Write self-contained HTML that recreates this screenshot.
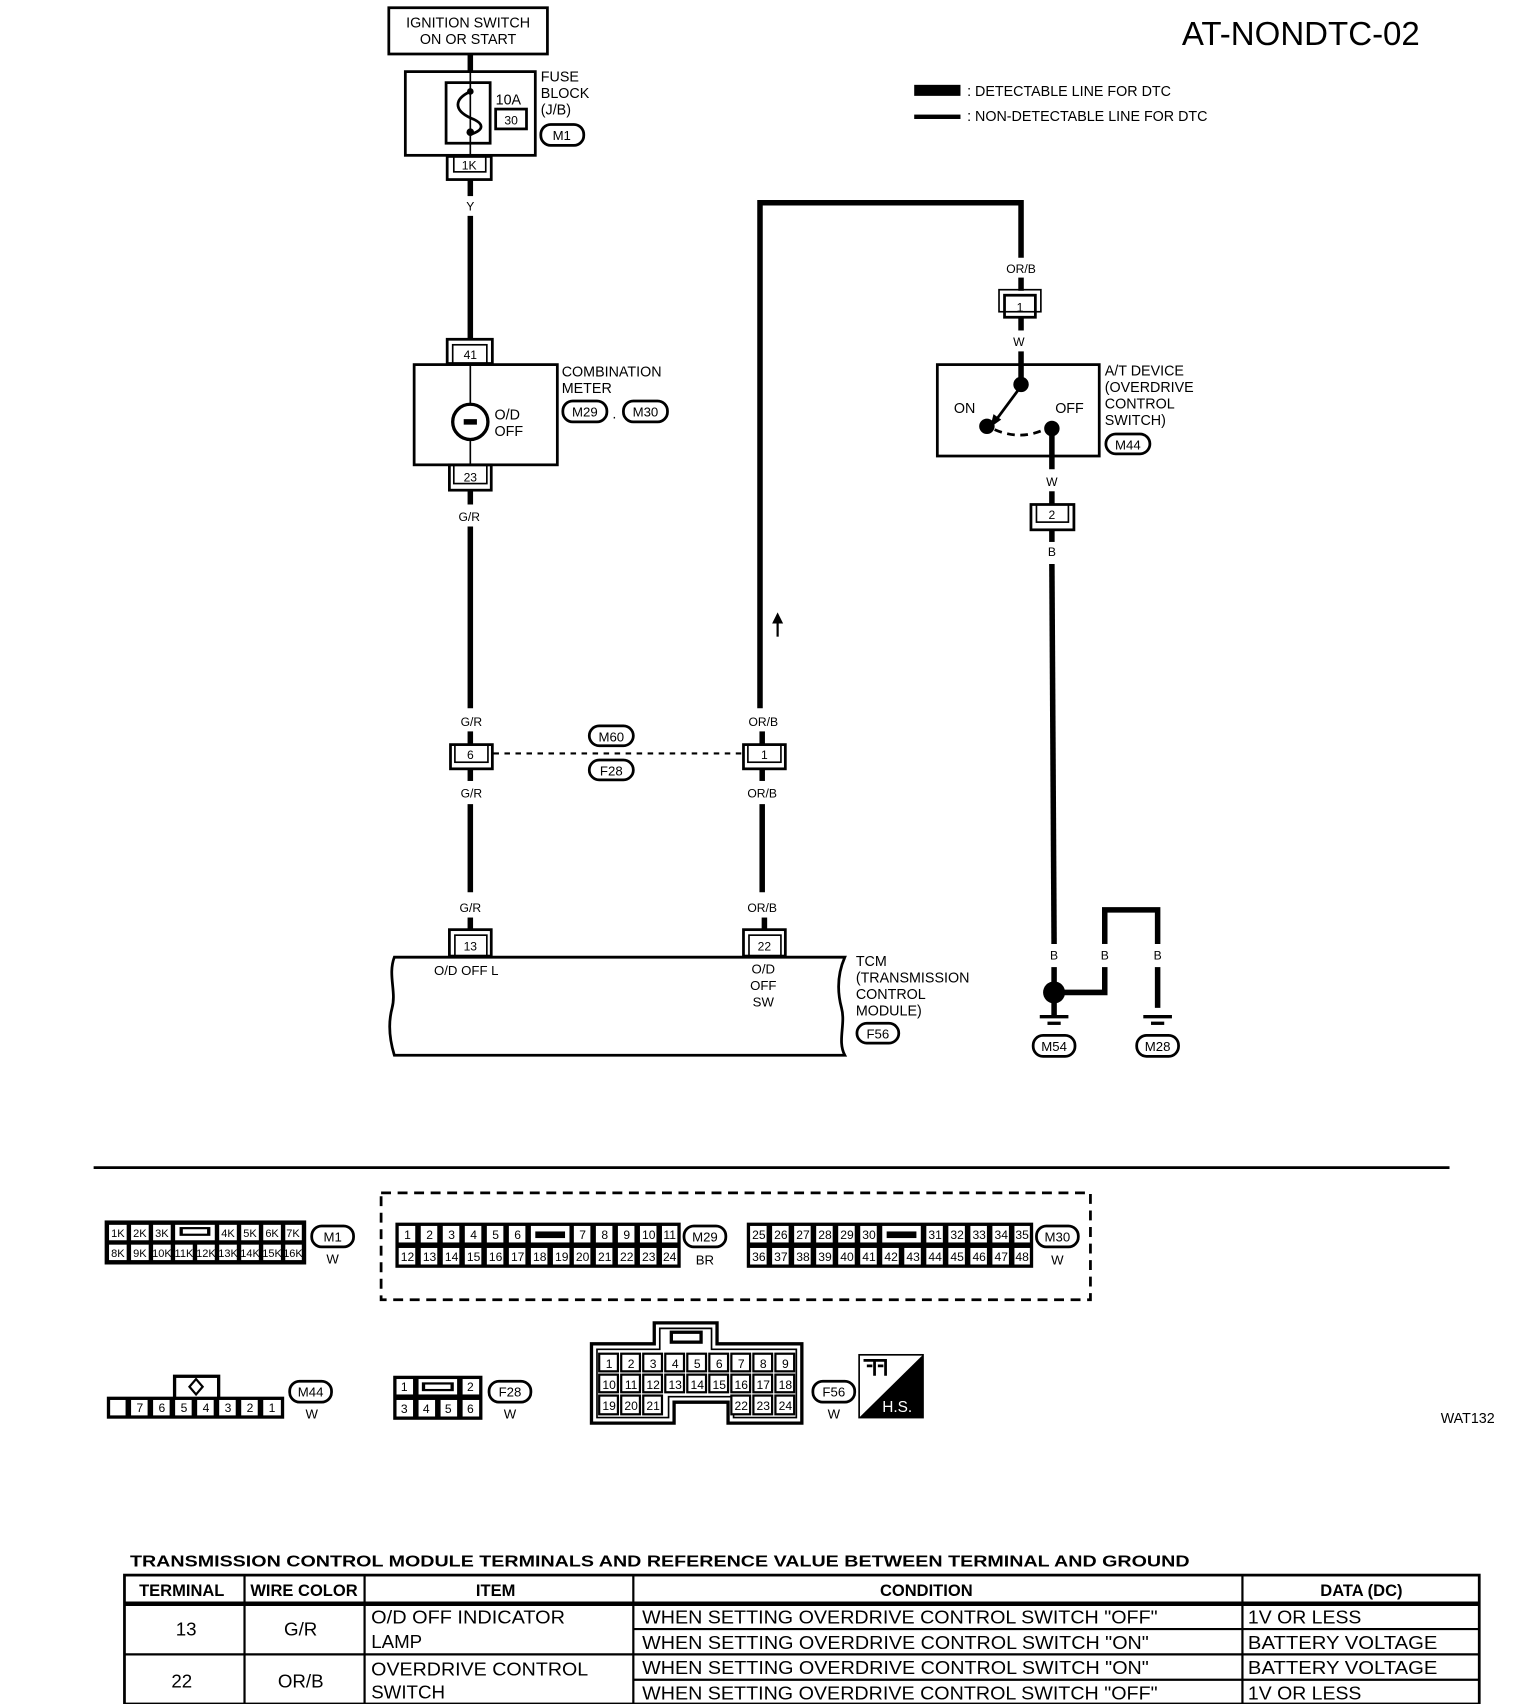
<!DOCTYPE html>
<html><head><meta charset="utf-8"><style>
html,body{margin:0;padding:0;background:#fff;}
svg{display:block;}
text{font-family:"Liberation Sans Narrow","Liberation Sans",sans-serif;fill:#000;}
.s{font-size:13px;}
.t{font-size:12px;}
.c{font-size:11px;text-anchor:middle;}
.m{font-size:12px;text-anchor:middle;}
.w{stroke:#000;stroke-width:5;fill:none;}
.b{stroke:#000;stroke-width:2.5;fill:none;}
.n{stroke:#000;stroke-width:1.5;fill:none;}
.g rect{fill:#fff;stroke:#000;stroke-width:2;}
</style></head><body>
<svg width="1520" height="1704" viewBox="0 0 1380 1547" xmlns="http://www.w3.org/2000/svg">
<text x="1073" y="41" style="font-size:30px">AT-NONDTC-02</text>
<rect x="830" y="77" width="42" height="10" fill="#000"/>
<text x="878" y="87" class="s">: DETECTABLE LINE FOR DTC</text>
<rect x="830" y="104" width="42" height="4" fill="#000"/>
<text x="878" y="110" class="s">: NON-DETECTABLE LINE FOR DTC</text>

<rect x="353" y="7" width="144" height="42" class="b"/>
<text x="425" y="25" class="s" text-anchor="middle">IGNITION SWITCH</text>
<text x="425" y="40" class="s" text-anchor="middle">ON OR START</text>
<line x1="427" y1="49" x2="427" y2="65" class="w"/>
<rect x="368" y="65" width="118" height="76" class="b"/>
<rect x="405" y="75" width="40" height="55" class="b"/>
<line x1="427" y1="65" x2="427" y2="142" class="n"/>
<path d="M427 83 C412 90,412 100,427 107 C440 112,440 118,427 122" class="b"/>
<circle cx="427" cy="83" r="3" fill="#000"/><circle cx="427" cy="120" r="3.5" fill="#000"/>
<text x="450" y="95" class="s">10A</text>
<rect x="450" y="99" width="28" height="18" class="b"/>
<text x="464" y="113" class="c">30</text>
<text x="491" y="74" class="s">FUSE</text><text x="491" y="89" class="s">BLOCK</text><text x="491" y="104" class="s">(J/B)</text>
<rect x="491" y="113" width="39" height="19" rx="9" class="b"/><text x="510" y="127" class="m">M1</text>
<rect x="406" y="142" width="40" height="21" class="b"/><rect x="412" y="142" width="29" height="14" class="n"/>
<text x="426" y="154" class="c">1K</text>
<line x1="427" y1="163" x2="427" y2="178" class="w"/>
<text x="427" y="191" class="c">Y</text>
<line x1="427" y1="196" x2="427" y2="308" class="w"/>
<rect x="406" y="308" width="41" height="22" class="b"/><rect x="411" y="313" width="31" height="17" class="n"/>
<text x="427" y="326" class="c">41</text>
<rect x="376" y="331" width="130" height="91" class="b"/>
<line x1="427" y1="331" x2="427" y2="422" class="n"/>
<circle cx="427" cy="383" r="16" fill="#fff" stroke="#000" stroke-width="3"/>
<line x1="421" y1="383" x2="433" y2="383" stroke="#000" stroke-width="5"/>
<text x="449" y="381" class="s">O/D</text><text x="449" y="396" class="s">OFF</text>
<text x="510" y="342" class="s">COMBINATION</text><text x="510" y="357" class="s">METER</text>
<rect x="511" y="364" width="40" height="19" rx="9" class="b"/><text x="531" y="378" class="m">M29</text>
<text x="556" y="380" class="s">.</text>
<rect x="566" y="364" width="40" height="19" rx="9" class="b"/><text x="586" y="378" class="m">M30</text>
<rect x="408" y="422" width="38" height="23" class="b"/><rect x="412" y="422" width="30" height="17" class="n"/>
<text x="427" y="437" class="c">23</text>
<line x1="427" y1="445" x2="427" y2="458" class="w"/>
<text x="426" y="473" class="c">G/R</text>
<line x1="427" y1="478" x2="427" y2="643" class="w"/>
<text x="428" y="659" class="c">G/R</text>
<line x1="427" y1="664" x2="427" y2="676" class="w"/>
<rect x="409" y="676" width="38" height="22" class="b"/><rect x="413" y="676" width="30" height="16" class="n"/>
<text x="427" y="689" class="c">6</text>
<line x1="427" y1="698" x2="427" y2="709" class="w"/>
<text x="428" y="724" class="c">G/R</text>
<line x1="427" y1="730" x2="427" y2="810" class="w"/>
<text x="427" y="828" class="c">G/R</text>
<line x1="427" y1="833" x2="427" y2="844" class="w"/>
<rect x="408" y="844" width="38" height="24" class="b"/><rect x="413" y="849" width="29" height="19" class="n"/>
<text x="427" y="863" class="c">13</text>
<line x1="448" y1="684" x2="676" y2="684" stroke="#000" stroke-width="2" stroke-dasharray="5,5"/>
<rect x="535" y="659" width="40" height="18" rx="9" class="b"/><text x="555" y="673" class="m">M60</text>
<rect x="535" y="690" width="40" height="18" rx="9" class="b"/><text x="555" y="704" class="m">F28</text>
<path d="M690 643 V184 H927 V234" class="w"/>
<path d="M706 578 V560" stroke="#000" stroke-width="2"/><path d="M701 566 L706 556 L711 566 Z" fill="#000"/>
<text x="693" y="659" class="c">OR/B</text>
<line x1="692" y1="664" x2="692" y2="676" class="w"/>
<rect x="675" y="676" width="38" height="22" class="b"/><rect x="679" y="676" width="30" height="16" class="n"/>
<text x="694" y="689" class="c">1</text>
<line x1="692" y1="698" x2="692" y2="709" class="w"/>
<text x="692" y="724" class="c">OR/B</text>
<line x1="692" y1="730" x2="692" y2="810" class="w"/>
<text x="692" y="828" class="c">OR/B</text>
<line x1="694" y1="833" x2="694" y2="844" class="w"/>
<rect x="675" y="844" width="38" height="24" class="b"/><rect x="680" y="849" width="29" height="19" class="n"/>
<text x="694" y="863" class="c">22</text>
<path d="M358 869 H767 C760 885,760 900,764 915 C768 930,760 945,767 958 H358 C354 945,352 930,356 915 C360 900,352 885,358 869 Z" class="b"/>
<text x="394" y="885" class="t">O/D OFF L</text>
<text x="693" y="884" class="c" style="font-size:12px">O/D</text>
<text x="693" y="899" class="c" style="font-size:12px">OFF</text>
<text x="693" y="914" class="c" style="font-size:12px">SW</text>
<text x="777" y="877" class="s">TCM</text><text x="777" y="892" class="s">(TRANSMISSION</text>
<text x="777" y="907" class="s">CONTROL</text><text x="777" y="922" class="s">MODULE)</text>
<rect x="778" y="929" width="38" height="18" rx="9" class="b"/><text x="797" y="943" class="m">F56</text>
<text x="927" y="248" class="c">OR/B</text>
<line x1="927" y1="252" x2="927" y2="264" class="w"/>
<rect x="907" y="263" width="38" height="20" class="n"/><rect x="912" y="268" width="28" height="20" class="b"/>
<text x="926" y="283" class="c">1</text>
<line x1="927" y1="288" x2="927" y2="300" class="w"/>
<text x="925" y="314" class="c">W</text>
<line x1="927" y1="319" x2="927" y2="348" class="w"/>
<rect x="851" y="331" width="147" height="83" class="b"/>
<circle cx="927" cy="349" r="7" fill="#000"/>
<line x1="926" y1="352" x2="903" y2="383" stroke="#000" stroke-width="2.5"/>
<path d="M899 388 L902 376 L909 381 Z" fill="#000"/>
<circle cx="896" cy="387" r="7" fill="#000"/>
<path d="M903 390 Q926 400 948 390" stroke="#000" stroke-width="2.5" fill="none" stroke-dasharray="7,5"/>
<circle cx="955" cy="389" r="7" fill="#000"/>
<line x1="955" y1="389" x2="955" y2="426" class="w"/>
<text x="866" y="375" class="s">ON</text><text x="958" y="375" class="s">OFF</text>
<text x="1003" y="341" class="s">A/T DEVICE</text><text x="1003" y="356" class="s">(OVERDRIVE</text>
<text x="1003" y="371" class="s">CONTROL</text><text x="1003" y="386" class="s">SWITCH)</text>
<rect x="1004" y="394" width="40" height="18" rx="9" class="b"/><text x="1024" y="408" class="m">M44</text>
<text x="955" y="441" class="c">W</text>
<line x1="955" y1="446" x2="955" y2="458" class="w"/>
<rect x="936" y="458" width="39" height="23" class="b"/><rect x="941" y="458" width="29" height="16" class="n"/>
<text x="955" y="471" class="c">2</text>
<line x1="955" y1="481" x2="955" y2="492" class="w"/>
<text x="955" y="505" class="c">B</text>
<line x1="955" y1="512" x2="957" y2="857" class="w"/>
<path d="M965 901 H1003 V826 H1051 V857" class="w"/>
<line x1="1003" y1="857" x2="1003" y2="878" stroke="#fff" stroke-width="8"/>
<line x1="1051" y1="878" x2="1051" y2="915" class="w"/>
<text x="957" y="871" class="c">B</text><text x="1003" y="871" class="c">B</text><text x="1051" y="871" class="c">B</text>
<line x1="957" y1="878" x2="957" y2="900" class="w"/>
<circle cx="957" cy="901" r="10" fill="#000"/>
<line x1="957" y1="910" x2="957" y2="922" class="w"/>
<line x1="944" y1="923" x2="970" y2="923" stroke="#000" stroke-width="3"/><line x1="951" y1="929" x2="963" y2="929" stroke="#000" stroke-width="3"/>
<line x1="1038" y1="923" x2="1064" y2="923" stroke="#000" stroke-width="3"/><line x1="1045" y1="929" x2="1057" y2="929" stroke="#000" stroke-width="3"/>
<rect x="938" y="940" width="38" height="19" rx="9" class="b"/><text x="957" y="954" class="m">M54</text>
<rect x="1032" y="940" width="38" height="19" rx="9" class="b"/><text x="1051" y="954" class="m">M28</text>

<line x1="85" y1="1060" x2="1316" y2="1060" stroke="#000" stroke-width="2.5"/>
<rect x="346" y="1083" width="644" height="97" fill="none" stroke="#000" stroke-width="2.5" stroke-dasharray="9,6"/>

<g class="g">
<rect x="96" y="1109" width="181" height="38" style="fill:#000"/>
<rect x="98" y="1111" width="18" height="16"/><rect x="118" y="1111" width="18" height="16"/><rect x="138" y="1111" width="18" height="16"/>
<rect x="158" y="1111" width="38" height="16"/>
<rect x="198" y="1111" width="18" height="16"/><rect x="218" y="1111" width="18" height="16"/><rect x="238" y="1111" width="18" height="16"/><rect x="258" y="1111" width="17" height="16"/>
<rect x="98" y="1129" width="18" height="16"/><rect x="118" y="1129" width="18" height="16"/><rect x="138" y="1129" width="18" height="16"/><rect x="158" y="1129" width="18" height="16"/><rect x="178" y="1129" width="18" height="16"/><rect x="198" y="1129" width="18" height="16"/><rect x="218" y="1129" width="18" height="16"/><rect x="238" y="1129" width="18" height="16"/><rect x="258" y="1129" width="17" height="16"/>
</g>
<rect x="163" y="1114" width="28" height="8" fill="#000"/><rect x="166" y="1116" width="22" height="4" fill="#fff"/>
<g class="c" style="font-size:10px">
<text x="107" y="1123">1K</text><text x="127" y="1123">2K</text><text x="147" y="1123">3K</text><text x="207" y="1123">4K</text><text x="227" y="1123">5K</text><text x="247" y="1123">6K</text><text x="266" y="1123">7K</text>
<text x="107" y="1141">8K</text><text x="127" y="1141">9K</text><text x="147" y="1141">10K</text><text x="167" y="1141">11K</text><text x="187" y="1141">12K</text><text x="207" y="1141">13K</text><text x="227" y="1141">14K</text><text x="247" y="1141">15K</text><text x="266" y="1141">16K</text>
</g>
<rect x="283" y="1113" width="38" height="19" rx="9" class="b"/><text x="302" y="1127" class="m">M1</text>
<text x="302" y="1147" class="m">W</text>

<rect x="359" y="1110" width="259" height="41" fill="#000"/>
<g class="g">
<rect x="361" y="1112" width="17" height="17"/><rect x="381" y="1112" width="17" height="17"/><rect x="401" y="1112" width="17" height="17"/><rect x="421" y="1112" width="17" height="17"/><rect x="441" y="1112" width="17" height="17"/><rect x="461" y="1112" width="17" height="17"/>
<rect x="481" y="1112" width="37" height="17"/>
<rect x="520" y="1112" width="17" height="17"/><rect x="540" y="1112" width="17" height="17"/><rect x="560" y="1112" width="17" height="17"/><rect x="580" y="1112" width="17" height="17"/><rect x="600" y="1112" width="16" height="17"/>
<rect x="361" y="1132" width="17" height="17"/><rect x="381" y="1132" width="17" height="17"/><rect x="401" y="1132" width="17" height="17"/><rect x="421" y="1132" width="17" height="17"/><rect x="441" y="1132" width="17" height="17"/><rect x="461" y="1132" width="17" height="17"/><rect x="481" y="1132" width="17" height="17"/><rect x="501" y="1132" width="17" height="17"/><rect x="520" y="1132" width="17" height="17"/><rect x="540" y="1132" width="17" height="17"/><rect x="560" y="1132" width="17" height="17"/><rect x="580" y="1132" width="17" height="17"/><rect x="600" y="1132" width="16" height="17"/>
</g>
<rect x="486" y="1118" width="27" height="6" fill="#000"/>
<g class="c" style="font-size:11px">
<text x="370" y="1125">1</text><text x="390" y="1125">2</text><text x="410" y="1125">3</text><text x="430" y="1125">4</text><text x="450" y="1125">5</text><text x="470" y="1125">6</text><text x="529" y="1125">7</text><text x="549" y="1125">8</text><text x="569" y="1125">9</text><text x="589" y="1125">10</text><text x="608" y="1125">11</text>
<text x="370" y="1145">12</text><text x="390" y="1145">13</text><text x="410" y="1145">14</text><text x="430" y="1145">15</text><text x="450" y="1145">16</text><text x="470" y="1145">17</text><text x="490" y="1145">18</text><text x="510" y="1145">19</text><text x="529" y="1145">20</text><text x="549" y="1145">21</text><text x="569" y="1145">22</text><text x="589" y="1145">23</text><text x="608" y="1145">24</text>
</g>
<rect x="621" y="1113" width="38" height="19" rx="9" class="b"/><text x="640" y="1127" class="m">M29</text>
<text x="640" y="1148" class="m">BR</text>

<rect x="678" y="1110" width="260" height="41" fill="#000"/>
<g class="g">
<rect x="680" y="1112" width="17" height="17"/><rect x="700" y="1112" width="17" height="17"/><rect x="720" y="1112" width="17" height="17"/><rect x="740" y="1112" width="17" height="17"/><rect x="760" y="1112" width="17" height="17"/><rect x="780" y="1112" width="17" height="17"/>
<rect x="800" y="1112" width="37" height="17"/>
<rect x="840" y="1112" width="17" height="17"/><rect x="860" y="1112" width="17" height="17"/><rect x="880" y="1112" width="17" height="17"/><rect x="900" y="1112" width="17" height="17"/><rect x="920" y="1112" width="16" height="17"/>
<rect x="680" y="1132" width="17" height="17"/><rect x="700" y="1132" width="17" height="17"/><rect x="720" y="1132" width="17" height="17"/><rect x="740" y="1132" width="17" height="17"/><rect x="760" y="1132" width="17" height="17"/><rect x="780" y="1132" width="17" height="17"/><rect x="800" y="1132" width="17" height="17"/><rect x="820" y="1132" width="17" height="17"/><rect x="840" y="1132" width="17" height="17"/><rect x="860" y="1132" width="17" height="17"/><rect x="880" y="1132" width="17" height="17"/><rect x="900" y="1132" width="17" height="17"/><rect x="920" y="1132" width="16" height="17"/>
</g>
<rect x="805" y="1118" width="27" height="6" fill="#000"/>
<g class="c" style="font-size:11px">
<text x="689" y="1125">25</text><text x="709" y="1125">26</text><text x="729" y="1125">27</text><text x="749" y="1125">28</text><text x="769" y="1125">29</text><text x="789" y="1125">30</text><text x="849" y="1125">31</text><text x="869" y="1125">32</text><text x="889" y="1125">33</text><text x="909" y="1125">34</text><text x="928" y="1125">35</text>
<text x="689" y="1145">36</text><text x="709" y="1145">37</text><text x="729" y="1145">38</text><text x="749" y="1145">39</text><text x="769" y="1145">40</text><text x="789" y="1145">41</text><text x="809" y="1145">42</text><text x="829" y="1145">43</text><text x="849" y="1145">44</text><text x="869" y="1145">45</text><text x="889" y="1145">46</text><text x="909" y="1145">47</text><text x="928" y="1145">48</text>
</g>
<rect x="941" y="1113" width="38" height="19" rx="9" class="b"/><text x="960" y="1127" class="m">M30</text>
<text x="960" y="1148" class="m">W</text>

<rect x="97" y="1268" width="161" height="20" fill="#000"/>
<rect x="157" y="1248" width="43" height="22" fill="#000"/><rect x="160" y="1251" width="37" height="17" fill="#fff"/>
<path d="M178 1252 L184 1259 L178 1266 L172 1259 Z" fill="none" stroke="#000" stroke-width="2"/>
<g class="g">
<rect x="99" y="1270" width="16" height="16"/><rect x="118" y="1270" width="17" height="16"/><rect x="138" y="1270" width="17" height="16"/><rect x="158" y="1270" width="17" height="16"/><rect x="178" y="1270" width="17" height="16"/><rect x="198" y="1270" width="17" height="16"/><rect x="218" y="1270" width="17" height="16"/><rect x="238" y="1270" width="18" height="16"/>
</g>
<g class="c" style="font-size:11px"><text x="127" y="1282">7</text><text x="147" y="1282">6</text><text x="167" y="1282">5</text><text x="187" y="1282">4</text><text x="207" y="1282">3</text><text x="227" y="1282">2</text><text x="247" y="1282">1</text></g>
<rect x="263" y="1254" width="38" height="19" rx="9" class="b"/><text x="282" y="1268" class="m">M44</text>
<text x="283" y="1288" class="m">W</text>

<rect x="357" y="1249" width="81" height="40" fill="#000"/>
<g class="g">
<rect x="359" y="1251" width="17" height="16"/><rect x="379" y="1251" width="37" height="16"/><rect x="419" y="1251" width="17" height="16"/>
<rect x="359" y="1270" width="17" height="17"/><rect x="379" y="1270" width="17" height="17"/><rect x="399" y="1270" width="17" height="17"/><rect x="419" y="1270" width="17" height="17"/>
</g>
<rect x="383" y="1255" width="29" height="8" fill="#000"/><rect x="386" y="1257" width="23" height="4" fill="#fff"/>
<g class="c" style="font-size:11px"><text x="367" y="1263">1</text><text x="427" y="1263">2</text><text x="367" y="1283">3</text><text x="387" y="1283">4</text><text x="407" y="1283">5</text><text x="427" y="1283">6</text></g>
<rect x="444" y="1254" width="38" height="19" rx="9" class="b"/><text x="463" y="1268" class="m">F28</text>
<text x="463" y="1288" class="m">W</text>

<path d="M537 1220 H594 V1201 H651 V1220 H728 V1292 H661 V1273 H612 V1292 H537 Z" fill="#fff" stroke="#000" stroke-width="3"/>
<path d="M542 1225 H599 V1206 H646 V1225 H723 V1287 H666 V1268 H607 V1287 H542 Z" fill="none" stroke="#000" stroke-width="1.5"/>
<rect x="608" y="1208" width="30" height="12" fill="#000"/><rect x="611" y="1211" width="24" height="6" fill="#fff"/>
<g class="g">
<rect x="544" y="1229" width="17" height="16"/><rect x="564" y="1229" width="17" height="16"/><rect x="584" y="1229" width="17" height="16"/><rect x="604" y="1229" width="17" height="16"/><rect x="624" y="1229" width="17" height="16"/><rect x="644" y="1229" width="17" height="16"/><rect x="664" y="1229" width="17" height="16"/><rect x="684" y="1229" width="17" height="16"/><rect x="704" y="1229" width="17" height="16"/>
<rect x="544" y="1248" width="17" height="16"/><rect x="564" y="1248" width="17" height="16"/><rect x="584" y="1248" width="17" height="16"/><rect x="604" y="1248" width="17" height="16"/><rect x="624" y="1248" width="17" height="16"/><rect x="644" y="1248" width="17" height="16"/><rect x="664" y="1248" width="17" height="16"/><rect x="684" y="1248" width="17" height="16"/><rect x="704" y="1248" width="17" height="16"/>
<rect x="544" y="1267" width="17" height="17"/><rect x="564" y="1267" width="17" height="17"/><rect x="584" y="1267" width="17" height="17"/><rect x="664" y="1267" width="17" height="17"/><rect x="684" y="1267" width="17" height="17"/><rect x="704" y="1267" width="17" height="17"/>
</g>
<g class="c" style="font-size:11px">
<text x="553" y="1242">1</text><text x="573" y="1242">2</text><text x="593" y="1242">3</text><text x="613" y="1242">4</text><text x="633" y="1242">5</text><text x="653" y="1242">6</text><text x="673" y="1242">7</text><text x="693" y="1242">8</text><text x="713" y="1242">9</text>
<text x="553" y="1261">10</text><text x="573" y="1261">11</text><text x="593" y="1261">12</text><text x="613" y="1261">13</text><text x="633" y="1261">14</text><text x="653" y="1261">15</text><text x="673" y="1261">16</text><text x="693" y="1261">17</text><text x="713" y="1261">18</text>
<text x="553" y="1280">19</text><text x="573" y="1280">20</text><text x="593" y="1280">21</text><text x="673" y="1280">22</text><text x="693" y="1280">23</text><text x="713" y="1280">24</text>
</g>
<rect x="738" y="1254" width="38" height="19" rx="9" class="b"/><text x="757" y="1268" class="m">F56</text>
<text x="757" y="1288" class="m">W</text>
<rect x="780" y="1230" width="58" height="57" fill="#fff" stroke="#000" stroke-width="1.5"/>
<path d="M780 1287 L838 1230 V1287 Z" fill="#000"/>
<path d="M784 1235 h10 v14 M794 1235 h10 v14 M787 1240 h5 M797 1240 h5" stroke="#000" stroke-width="2.5" fill="none"/>
<text x="801" y="1282" style="font-size:14px;fill:#fff">H.S.</text>
<text x="1308" y="1292" class="s">WAT132</text>

<text x="118" y="1422" style="font-size:14px;font-weight:bold" textLength="962" lengthAdjust="spacingAndGlyphs">TRANSMISSION CONTROL MODULE TERMINALS AND REFERENCE VALUE BETWEEN TERMINAL AND GROUND</text>
<rect x="113" y="1430" width="1230" height="117" fill="none" stroke="#000" stroke-width="2.5"/>
<line x1="113" y1="1456" x2="1343" y2="1456" stroke="#000" stroke-width="4"/>
<line x1="113" y1="1502" x2="1343" y2="1502" stroke="#000" stroke-width="2"/>
<line x1="575" y1="1479" x2="1343" y2="1479" stroke="#000" stroke-width="2"/>
<line x1="575" y1="1525" x2="1343" y2="1525" stroke="#000" stroke-width="2"/>
<line x1="222" y1="1430" x2="222" y2="1547" stroke="#000" stroke-width="2"/>
<line x1="331" y1="1430" x2="331" y2="1547" stroke="#000" stroke-width="2"/>
<line x1="575" y1="1430" x2="575" y2="1547" stroke="#000" stroke-width="2"/>
<line x1="1128" y1="1430" x2="1128" y2="1547" stroke="#000" stroke-width="2"/>
<g style="font-size:15px;font-weight:bold" text-anchor="middle">
<text x="165" y="1449">TERMINAL</text><text x="276" y="1449">WIRE COLOR</text><text x="450" y="1449">ITEM</text><text x="841" y="1449">CONDITION</text><text x="1236" y="1449">DATA (DC)</text>
</g>
<g style="font-size:17px">
<text x="169" y="1485" text-anchor="middle">13</text><text x="273" y="1485" text-anchor="middle">G/R</text>
<text x="165" y="1532" text-anchor="middle">22</text><text x="273" y="1532" text-anchor="middle">OR/B</text>
<text x="337" y="1474" textLength="176" lengthAdjust="spacingAndGlyphs">O/D OFF INDICATOR</text><text x="337" y="1496">LAMP</text>
<text x="337" y="1521" textLength="197" lengthAdjust="spacingAndGlyphs">OVERDRIVE CONTROL</text><text x="337" y="1542">SWITCH</text>
<text x="583" y="1474" textLength="468" lengthAdjust="spacingAndGlyphs">WHEN SETTING OVERDRIVE CONTROL SWITCH "OFF"</text>
<text x="583" y="1497" textLength="460" lengthAdjust="spacingAndGlyphs">WHEN SETTING OVERDRIVE CONTROL SWITCH "ON"</text>
<text x="583" y="1520" textLength="460" lengthAdjust="spacingAndGlyphs">WHEN SETTING OVERDRIVE CONTROL SWITCH "ON"</text>
<text x="583" y="1543" textLength="468" lengthAdjust="spacingAndGlyphs">WHEN SETTING OVERDRIVE CONTROL SWITCH "OFF"</text>
<text x="1133" y="1474" textLength="103" lengthAdjust="spacingAndGlyphs">1V OR LESS</text><text x="1133" y="1497" textLength="172" lengthAdjust="spacingAndGlyphs">BATTERY VOLTAGE</text>
<text x="1133" y="1520" textLength="172" lengthAdjust="spacingAndGlyphs">BATTERY VOLTAGE</text><text x="1133" y="1543" textLength="103" lengthAdjust="spacingAndGlyphs">1V OR LESS</text>
</g>
</svg>
</body></html>
